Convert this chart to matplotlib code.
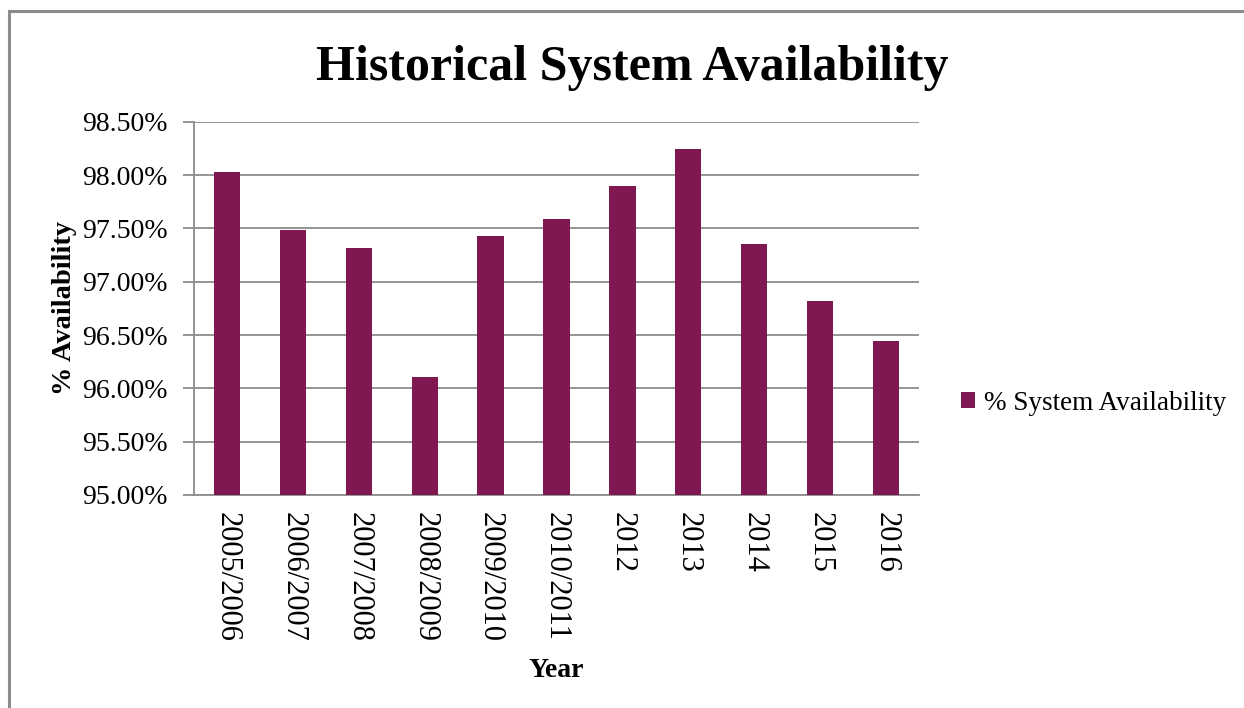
import matplotlib
matplotlib.use("Agg")
import matplotlib.pyplot as plt
from matplotlib.patches import Rectangle
from matplotlib.ticker import FuncFormatter

years = ["2005/2006", "2006/2007", "2007/2008", "2008/2009", "2009/2010",
         "2010/2011", "2012", "2013", "2014", "2015", "2016"]
availability = [98.03, 97.48, 97.32, 96.11, 97.43, 97.59, 97.90, 98.24, 97.35, 96.82, 96.44]
y_ticks = [95.0, 95.5, 96.0, 96.5, 97.0, 97.5, 98.0, 98.5]

bar_color = "#7f1850"
grid_color = "#8c8c8c"
plt.rcParams["font.family"] = ["Liberation Serif", "DejaVu Serif"]

W, H = 1244, 708
fig = plt.figure(figsize=(W / 100, H / 100), dpi=100)

# outer chart frame (only top and left edges visible)
fig.patches.append(Rectangle((8.5 / W, -0.1), 1.2, 1.1 - 11.5 / H, transform=fig.transFigure,
                             fill=False, edgecolor="#8c8c8c", linewidth=2.2))

ax = fig.add_axes([194 / W, 1 - 495 / H, 725 / W, (495 - 121.7) / H])
x = range(len(years))
ax.bar(x, availability, width=0.4, color=bar_color, zorder=3, label="% System Availability")

ax.set_xlim(-0.5, len(years) - 0.5)
ax.set_ylim(95.0, 98.5)
ax.set_yticks(y_ticks)
ax.yaxis.set_major_formatter(FuncFormatter(lambda v, p: f"{v:.2f}%"))
ax.set_xticks(list(x))
ax.set_xticklabels(years, rotation=-90, va="top", ha="center", fontsize=22)
ax.tick_params(axis="x", length=0, pad=12)
ax.tick_params(axis="y", length=8, width=1.3, color=grid_color, labelsize=20, pad=11)
ax.grid(axis="y", color=grid_color, linewidth=1.3, zorder=0)

for s in ["top", "right"]:
    ax.spines[s].set_visible(False)
for s in ["left", "bottom"]:
    ax.spines[s].set_color(grid_color)
    ax.spines[s].set_linewidth(1.3)

ax.set_ylabel("% Availability", fontsize=20.5, fontweight="bold")
ax.yaxis.set_label_coords(-0.161, 0.5)
ax.set_xlabel("Year", fontsize=20, fontweight="bold")
ax.xaxis.set_label_coords(0.499, -0.436)

fig.text(632 / W, 1 - 80 / H, "Historical System Availability", ha="center", va="baseline",
         fontsize=36, fontweight="bold")

fig.legend(loc="center left", bbox_to_anchor=(961 / W, 1 - 403 / H), frameon=False,
           fontsize=19.5, handlelength=0.5, handleheight=0.5, handletextpad=0.35,
           borderpad=0, borderaxespad=0)

fig.savefig("out.png", dpi=100)
